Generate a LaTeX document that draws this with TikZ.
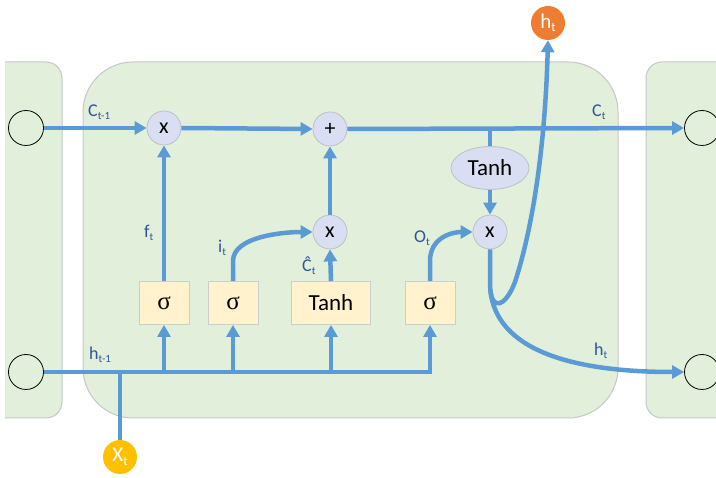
\documentclass[tikz,border=0pt]{standalone}
\usepackage{fontspec}
\setmainfont{Carlito}
\newfontfamily\sigfont{Liberation Serif}
\usetikzlibrary{arrows.meta,shapes.geometric}
\definecolor{lineblue}{RGB}{91,155,213}
\definecolor{panelfill}{RGB}{226,239,218}
\definecolor{panelborder}{RGB}{196,200,198}
\definecolor{opfill}{RGB}{217,222,242}
\definecolor{opborder}{RGB}{190,192,200}
\definecolor{gatefill}{RGB}{255,242,204}
\definecolor{gateborder}{RGB}{205,205,205}
\definecolor{lblblue}{RGB}{47,85,151}
\definecolor{outorange}{RGB}{237,125,49}
\definecolor{inyellow}{RGB}{255,192,0}
\newcommand\lsub[1]{\raisebox{-0.35ex}{\fontsize{11}{11}\selectfont #1}}
\newcommand\bsub[1]{\raisebox{-0.35ex}{\fontsize{13}{13}\selectfont #1}}
\begin{document}
\begin{tikzpicture}[x=1pt,y=-1pt,
  panel/.style={fill=panelfill,draw=panelborder,line width=1pt},
  flow/.style={draw=lineblue,line width=4.5pt},
  arr/.style={flow,-{Triangle[length=12pt,width=13pt]}},
  op/.style={circle,draw=opborder,fill=opfill,line width=0.8pt,minimum size=34pt,inner sep=0pt,font=\fontsize{22}{22}\selectfont},
  gate/.style={rectangle,draw=gateborder,fill=gatefill,line width=0.8pt,minimum width=50pt,minimum height=43pt,inner sep=0pt,font=\sigfont\fontsize{25}{25}\selectfont},
  tanhbox/.style={gate,minimum width=79pt,font=\fontsize{23}{23}\selectfont},
  tanhell/.style={ellipse,draw=opborder,fill=opfill,line width=0.8pt,minimum width=78pt,minimum height=43pt,inner sep=0pt,font=\fontsize{23}{23}\selectfont},
  port/.style={circle,draw=black,line width=0.8pt,minimum size=35pt,inner sep=0pt},
  ionode/.style={circle,minimum size=34pt,inner sep=0pt,text=white,font=\fontsize{21}{21}\selectfont},
  lbl/.style={text=lblblue,font=\fontsize{18}{18}\selectfont,anchor=west,inner sep=0pt}]
\useasboundingbox (0,0) rectangle (716,478);
% panels
\begin{scope}
  \clip (5,0) rectangle (716,478);
  \draw[panel,rounded corners=16pt] (-30,62) rectangle (62,418);
  \draw[panel,rounded corners=16pt] (646,62) rectangle (760,418);
\end{scope}
\draw[panel,rounded corners=50pt] (83,62) rectangle (618,418);
% nodes
\node[port] (pl1) at (26,128) {};
\node[port] (pl2) at (26,372) {};
\node[port] (pr1) at (702,128) {};
\node[port] (pr2) at (702,372) {};
\node[op] (m1) at (164,128) {x};
\node[op] (add) at (330,129) {+};
\node[op] (m2) at (330,232) {x};
\node[op] (m3) at (490,232) {x};
\node[tanhell] (th2) at (490,168) {Tanh};
\node[gate] (s1) at (164,303) {σ};
\node[gate] (s2) at (233,303) {σ};
\node[tanhbox] (th1) at (331,303) {Tanh};
\node[gate] (s4) at (430,303) {σ};
\node[ionode,fill=outorange] (hto) at (548,23) {h\bsub{t}};
\node[ionode,fill=inyellow] (xt) at (120,457) {X\bsub{t}};
\coordinate (bx) at (120,372);
\coordinate (b1) at (164,372);
\coordinate (b2) at (233,372);
\coordinate (b3) at (331,372);
\coordinate (b4) at (430,372);
\coordinate (br) at (490,128);
% top cell state line
\draw[arr] (pl1.east) -- (m1.west);
\draw[arr] (m1.east) -- (add.west);
\draw[arr] (add.east) -- (pr1.west);
\draw[flow] (br) -- (th2.north);
\draw[arr] (th2.south) -- (m3.north);
% gates to ops
\draw[arr] (s1.north) -- (m1.south);
\draw[arr] (th1.north) -- (m2.south);
\draw[arr] (m2.north) -- (add.south);
\draw[arr] (s2.north) -- ++(0,-20) .. controls +(0,-25) and +(-28,0) .. (m2.west);
\draw[arr] (s4.north) -- ++(0,-20) .. controls +(0,-24) and +(-20,0) .. (m3.west);
% bottom input line
\draw[arr,line join=miter] (pl2.east) -- (b4) -- (s4.south);
\draw[arr] (b1) -- (s1.south);
\draw[arr] (b2) -- (s2.south);
\draw[arr] (b3) -- (th1.south);
\draw[flow] (xt.north) -- (bx);
% output
\draw[arr] (m3.south) -- (490,285) .. controls (492,345) and (560,372) .. (pr2.west);
\draw[arr] (490.5,290) .. controls (492,310) and (505,308) .. (515,282) .. controls (532,230) and (545,150) .. (hto.south);
% labels
\node[lbl] at (88,112) {C\lsub{t-1}};
\node[lbl] at (592,112) {C\lsub{t}};
\node[lbl] at (144,233) {f\lsub{t}};
\node[lbl] at (218,248) {i\lsub{t}};
\node[lbl] at (302,266) {Ĉ\lsub{t}};
\node[lbl] at (414,238) {O\lsub{t}};
\node[lbl] at (89,355) {h\lsub{t-1}};
\node[lbl] at (594,351) {h\lsub{t}};
\end{tikzpicture}
\end{document}
